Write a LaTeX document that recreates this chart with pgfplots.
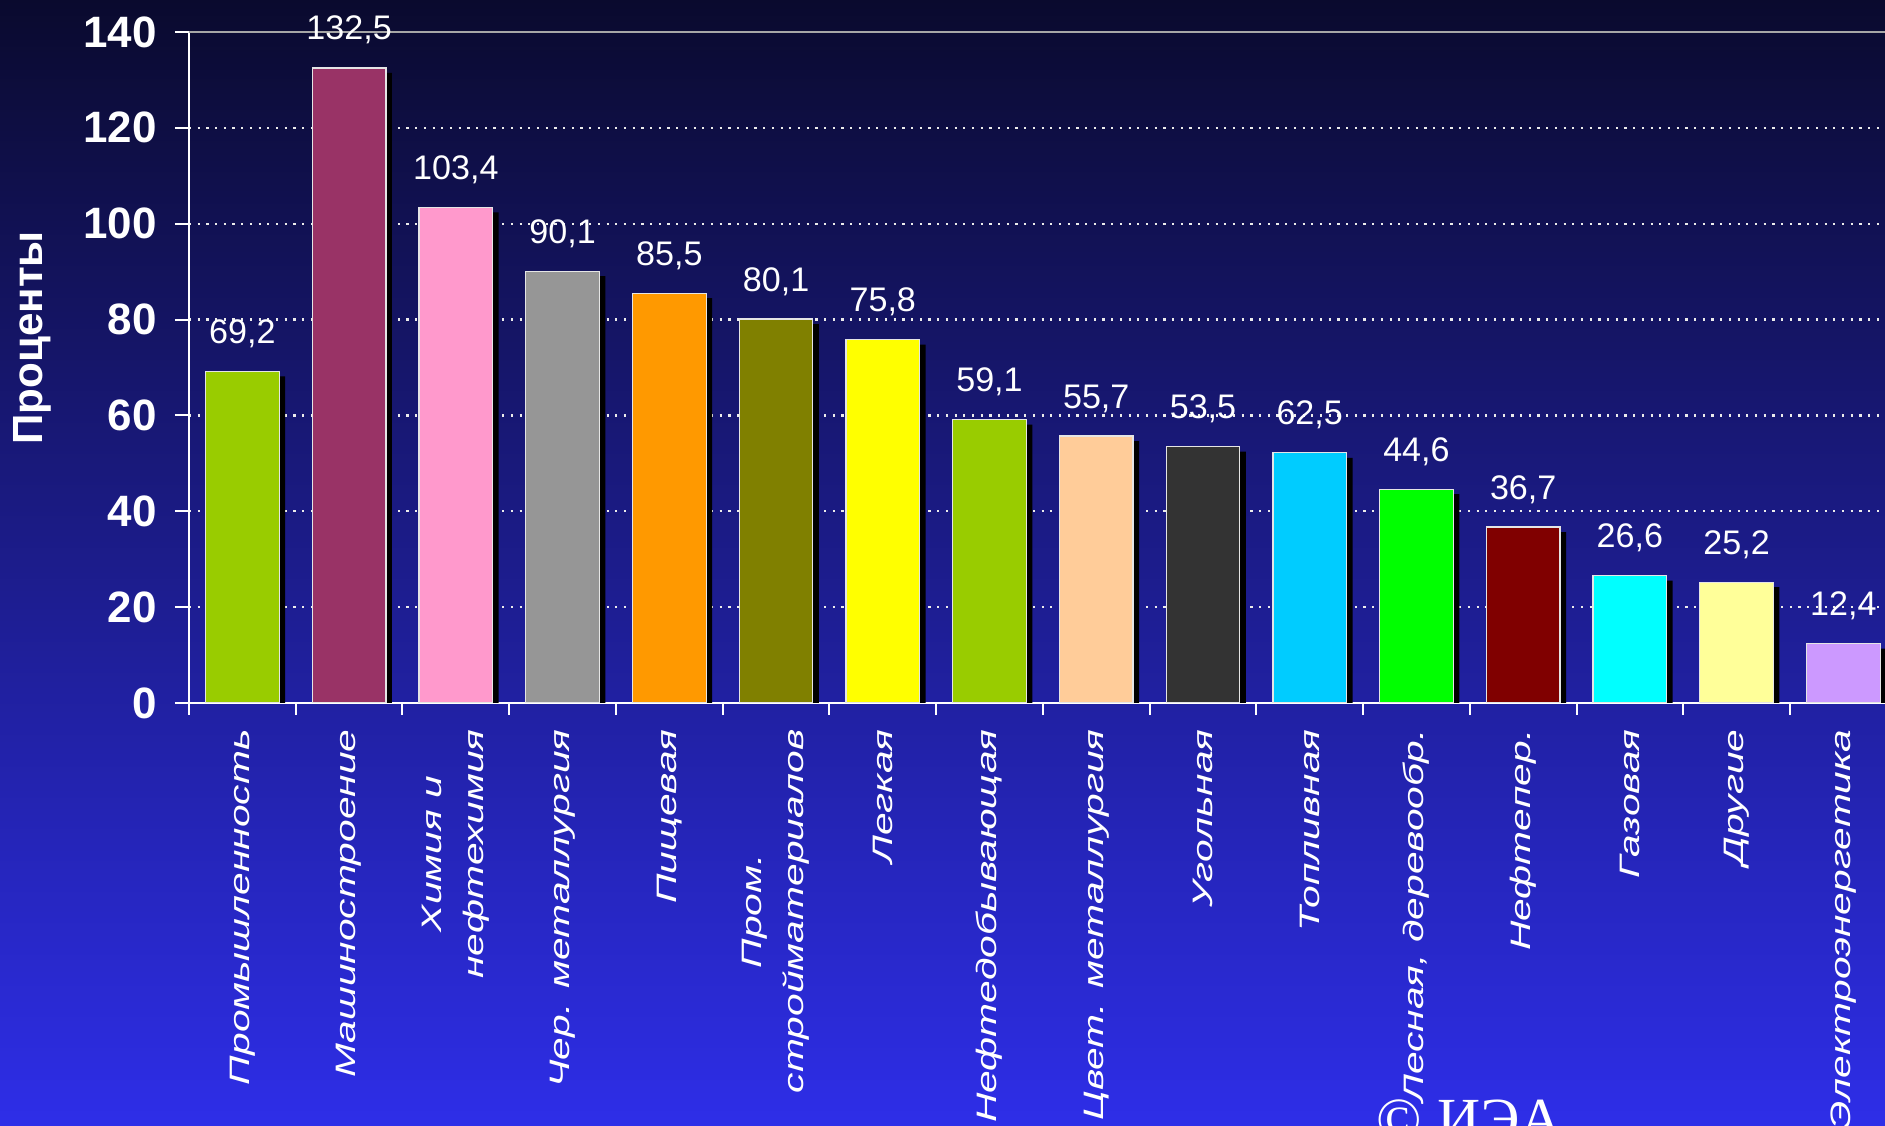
\documentclass[border=0pt]{standalone}
\usepackage{fontspec}
\usepackage{pgfplots}
\pgfplotsset{compat=1.18}
\setmainfont{Liberation Sans}
\newfontfamily\catfont[FakeStretch=1.45]{Liberation Sans}
\newfontfamily\seriffont{Liberation Serif}

\definecolor{bgtop}{HTML}{0A0A2E}
\definecolor{bgbot}{HTML}{2E2EE8}
\definecolor{c1}{HTML}{99CC00}
\definecolor{c2}{HTML}{993366}
\definecolor{c3}{HTML}{FF99CC}
\definecolor{c4}{HTML}{969696}
\definecolor{c5}{HTML}{FF9900}
\definecolor{c6}{HTML}{808000}
\definecolor{c7}{HTML}{FFFF00}
\definecolor{c8}{HTML}{99CC00}
\definecolor{c9}{HTML}{FFCC99}
\definecolor{c10}{HTML}{333333}
\definecolor{c11}{HTML}{00CCFF}
\definecolor{c12}{HTML}{00FF00}
\definecolor{c13}{HTML}{800000}
\definecolor{c14}{HTML}{00FFFF}
\definecolor{c15}{HTML}{FFFF99}
\definecolor{c16}{HTML}{CC99FF}

\pgfplotsset{
  mybar/.style={
    ybar, bar width=0.69, bar shift=0pt,
    draw=gray!20, line width=0.35pt,
    nodes near coords, point meta=explicit symbolic,
    nodes near coords style={anchor=base, yshift=2.8mm, inner sep=0pt,
      text=white, font=\fontsize{9.7}{10}\selectfont},
  },
}

\begin{document}
\begin{tikzpicture}
\shade[top color=bgtop, bottom color=bgbot] (0,0) rectangle (188.5mm,112.6mm);
\useasboundingbox (0,0) rectangle (188.5mm,112.6mm);

\begin{axis}[
  at={(18.9mm,42.3mm)}, anchor=south west,
  scale only axis, width=169.6mm, height=67.1mm,
  xmin=-0.5, xmax=15.39, ymin=0, ymax=140,
  axis x line*=bottom, axis y line*=left,
  axis line style={white, line width=0.25mm},
  ytick={0,20,...,140},
  xtick={0,...,15},
  minor xtick={-0.5,0.5,...,14.5},
  tick align=outside,
  major tick length=1.4mm, minor tick length=1.2mm,
  major x tick style={draw=none},
  minor x tick style={white, line width=0.2mm},
  major y tick style={white, line width=0.2mm},
  ymajorgrids,
  grid style={white!85!gray, line width=0.22mm, dash pattern=on 0.22mm off 0.65mm},
  /pgf/number format/assume math mode=true,
  yticklabel style={text=white, xshift=-0.6mm, font=\bfseries\fontsize{12.5}{12.5}\selectfont},
  xticklabel style={text=white, rotate=90, anchor=east, align=center,
    font=\catfont\itshape\fontsize{8}{12}\selectfont},
  xticklabels={Промышленность, Машиностроение, {Химия и\\нефтехимия},
    Чер. металлургия, Пищевая, {Пром.\\стройматериалов}, Легкая,
    Нефтедобывающая, Цвет. металлургия, Угольная, Топливная,
    {Лесная, деревообр.}, Нефтепер., Газовая, Другие, Электроэнергетика},
  ylabel={Проценты},
  ylabel style={at={(rel axis cs:0,0.544)}, yshift=15.7mm, anchor=center,
    text=white, font=\bfseries\fontsize{12}{12}\selectfont},
]
% shadows
\addplot[ybar, bar width=0.69, bar shift=0.6mm, yshift=-0.5mm, fill=black, draw=none]
  coordinates {(0,69.2) (1,132.5) (2,103.4) (3,90.1) (4,85.5) (5,80.1) (6,75.8)
    (7,59.1) (8,55.7) (9,53.5) (10,52.2) (11,44.6) (12,36.7) (13,26.6) (14,25.2) (15,12.4)};

\addplot[mybar, fill=c1] coordinates {(0,69.2) [69,2]};
\addplot[mybar, fill=c2] coordinates {(1,132.5) [132,5]};
\addplot[mybar, fill=c3] coordinates {(2,103.4) [103,4]};
\addplot[mybar, fill=c4] coordinates {(3,90.1) [90,1]};
\addplot[mybar, fill=c5] coordinates {(4,85.5) [85,5]};
\addplot[mybar, fill=c6] coordinates {(5,80.1) [80,1]};
\addplot[mybar, fill=c7] coordinates {(6,75.8) [75,8]};
\addplot[mybar, fill=c8] coordinates {(7,59.1) [59,1]};
\addplot[mybar, fill=c9] coordinates {(8,55.7) [55,7]};
\addplot[mybar, fill=c10] coordinates {(9,53.5) [53,5]};
\addplot[mybar, fill=c11] coordinates {(10,52.2) [62,5]};
\addplot[mybar, fill=c12] coordinates {(11,44.6) [44,6]};
\addplot[mybar, fill=c13] coordinates {(12,36.7) [36,7]};
\addplot[mybar, fill=c14] coordinates {(13,26.6) [26,6]};
\addplot[mybar, fill=c15] coordinates {(14,25.2) [25,2]};
\addplot[mybar, fill=c16] coordinates {(15,12.4) [12,4]};

\draw[gray!70, line width=0.25mm] (rel axis cs:0,1) -- (rel axis cs:1,1);
\end{axis}

\node[anchor=base west, inner sep=0pt, text=white,
  font=\seriffont\fontsize{17}{17}\selectfont] at (137.6mm,-1.4mm) {© ИЭА};
\end{tikzpicture}
\end{document}
